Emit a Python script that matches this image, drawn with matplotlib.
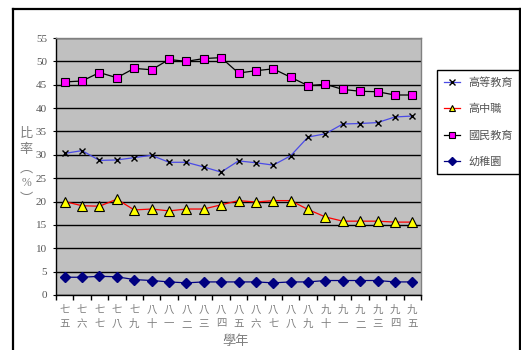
import matplotlib
matplotlib.use("Agg")
import matplotlib.pyplot as plt
from matplotlib.lines import Line2D
import numpy as np

# 學年 labels (民國 75 ~ 95), stacked vertically
years_top = ["七", "七", "七", "七", "七", "八", "八", "八", "八", "八", "八",
             "八", "八", "八", "八", "九", "九", "九", "九", "九", "九"]
years_bot = ["五", "六", "七", "八", "九", "十", "一", "二", "三", "四", "五",
             "六", "七", "八", "九", "十", "一", "二", "三", "四", "五"]

higher_edu = [30.3, 30.9, 28.8, 28.9, 29.4, 29.9, 28.4, 28.4, 27.4, 26.3, 28.7,
              28.3, 27.8, 29.8, 33.8, 34.5, 36.6, 36.7, 36.9, 38.1, 38.3]
senior_high = [20.0, 19.1, 19.0, 20.5, 18.2, 18.4, 18.0, 18.4, 18.4, 19.3, 20.2,
               19.9, 20.2, 20.2, 18.3, 16.7, 15.8, 15.8, 15.8, 15.6, 15.6]
national_edu = [45.6, 45.8, 47.6, 46.5, 48.5, 48.2, 50.4, 50.0, 50.6, 50.8, 47.5,
                48.0, 48.4, 46.6, 44.8, 45.1, 44.0, 43.6, 43.5, 42.8, 42.8]
kindergarten = [3.8, 3.8, 4.0, 3.9, 3.3, 3.1, 2.8, 2.6, 2.8, 2.8, 2.8,
                2.8, 2.6, 2.8, 2.8, 3.1, 3.1, 3.1, 3.1, 2.8, 2.8]

series_names = ["高等教育", "高中職", "國民教育", "幼稚園"]

CJK = ["Noto Sans CJK TC", "DejaVu Sans"]
W, H = 521, 350

fig = plt.figure(figsize=(W / 100, H / 100), dpi=100)
fig.patch.set_facecolor("white")

# chart frame
for xs, ys in [((13, 13), (9, 352)), ((13, 520), (9, 9)), ((520, 520), (9, 352))]:
    fig.add_artist(Line2D([x / W for x in xs], [1 - y / H for y in ys],
                          transform=fig.transFigure, color="black", lw=1.6))

left, right, top, bottom = 56, 421, 38, 295
ax = fig.add_axes([left / W, 1 - bottom / H, (right - left) / W, (bottom - top) / H])
ax.set_facecolor("#C0C0C0")

x = np.arange(len(years_top))

ax.plot(x, higher_edu, color="#4B4BE6", lw=0.9, marker="x", ms=4.5,
        mec="black", mew=1.0, label=series_names[0], zorder=4)
ax.plot(x, senior_high, color="#FF0000", lw=0.9, marker="^", ms=6.5,
        mfc="#FFFF00", mec="black", mew=0.8, label=series_names[1], zorder=4)
ax.plot(x, national_edu, color="black", lw=0.9, marker="s", ms=6,
        mfc="#FF00FF", mec="black", mew=0.8, label=series_names[2], zorder=4)
ax.plot(x, kindergarten, color="#000080", lw=0.9, marker="D", ms=5,
        mfc="#000080", mec="#000080", label=series_names[3], zorder=4)

ax.set_xlim(-0.5, len(x) - 0.5)
ax.set_ylim(0, 55)
ax.set_yticks(np.arange(0, 56, 5))
ax.yaxis.grid(True, color="black", lw=1.0)
ax.set_axisbelow(True)

for side in ("top", "right"):
    ax.spines[side].set_color("#808080")
    ax.spines[side].set_linewidth(1.0)
for side in ("left", "bottom"):
    ax.spines[side].set_color("black")
    ax.spines[side].set_linewidth(1.0)

ax.set_xticks(x)
ax.set_xticklabels([f"{a}\n{b}" for a, b in zip(years_top, years_bot)],
                   family=CJK, fontsize=7.5, color="#7F7F7F", linespacing=1.5)
ax.tick_params(axis="x", length=0, pad=7)
ax.set_xticks(np.arange(-0.5, len(x), 1), minor=True)
ax.tick_params(axis="x", which="minor", length=3.5, direction="out", color="black", width=1)
ax.tick_params(axis="y", length=2.5, direction="out", color="black", pad=4)
for lab in ax.get_yticklabels():
    lab.set_family("Liberation Serif")
    lab.set_fontsize(8)
    lab.set_color("#555555")

# y-axis title, stacked vertically
for ch, yy in [("比", 133), ("率", 149), ("︵", 168), ("%", 183), ("︶", 199)]:
    fam = CJK if ch != "%" else ["Liberation Serif"]
    fig.text(26 / W, 1 - yy / H, ch, family=fam, fontsize=9.5 if ch != "%" else 8.5,
             color="#7F7F7F", ha="center", va="center")

fig.text(236 / W, 1 - 342 / H, "學年", family=CJK, fontsize=9.5,
         color="#7F7F7F", ha="center", va="center")

legend_handles = [
    Line2D([], [], color="#4B4BE6", lw=0.9, marker="x", ms=4, mec="black", mew=1.0),
    Line2D([], [], color="#FF0000", lw=0.9, marker="^", ms=5, mfc="#FFFF00", mec="black", mew=0.8),
    Line2D([], [], color="black", lw=0.9, marker="s", ms=5, mfc="#FF00FF", mec="black", mew=0.8),
    Line2D([], [], color="#000080", lw=0.9, marker="D", ms=4, mfc="#000080", mec="#000080"),
]
leg = fig.legend(legend_handles, series_names, loc="upper left",
                 bbox_to_anchor=(437 / W, 1 - 70 / H),
                 bbox_transform=fig.transFigure, prop={"family": CJK, "size": 8},
                 frameon=True, fancybox=False, edgecolor="black", framealpha=1,
                 handlelength=1.5, handletextpad=0.7, labelspacing=1.45,
                 borderpad=0.6, borderaxespad=0)
leg.get_frame().set_linewidth(1.0)
for t in leg.get_texts():
    t.set_color("#555555")

fig.savefig("out.png", dpi=100)
